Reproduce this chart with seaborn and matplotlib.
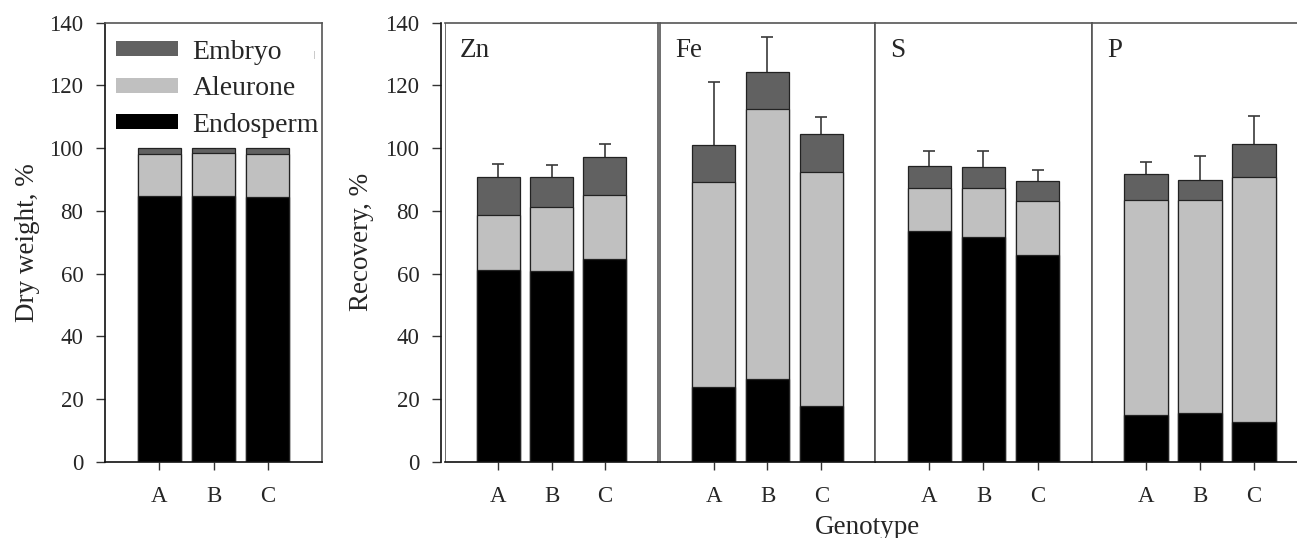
import matplotlib
matplotlib.use("Agg")
import matplotlib.pyplot as plt
import numpy as np
import pandas as pd
import seaborn as sns
from matplotlib.patches import Patch

sns.set_theme(style="white")
plt.rcParams["font.family"] = ["Liberation Serif", "DejaVu Serif"]
TICK_FS = 16.5
LABEL_FS = 19.5

genotypes = ["A", "B", "C"]
layers = ["Embryo", "Aleurone", "Endosperm"]
layer_colors = {"Embryo": "#616161", "Aleurone": "#c0c0c0", "Endosperm": "#000000"}

# dry weight distribution, %
dw_endosperm = [84.9, 84.6, 84.3]
dw_aleurone = [13.2, 13.8, 13.7]
dw_embryo = [1.9, 1.6, 2.0]

# recovery per element, %
elements = ["Zn", "Fe", "S", "P"]
rec_endosperm = {"Zn": [61.2, 61.0, 64.7], "Fe": [23.8, 26.3, 17.9],
                 "S": [73.5, 71.8, 66.0], "P": [15.0, 15.7, 12.8]}
rec_aleurone = {"Zn": [17.5, 20.3, 20.4], "Fe": [65.5, 86.3, 74.5],
                "S": [13.8, 15.6, 17.1], "P": [68.5, 67.8, 78.1]}
rec_embryo = {"Zn": [12.2, 9.6, 12.2], "Fe": [11.8, 11.8, 12.0],
              "S": [7.1, 6.7, 6.3], "P": [8.2, 6.2, 10.5]}
rec_err = {"Zn": [4.2, 3.6, 3.9], "Fe": [20.0, 10.9, 5.4],
           "S": [4.8, 5.1, 3.5], "P": [3.9, 7.9, 8.7]}

GREY = "#555555"
W, H = 1297, 538
TOP, BOTTOM = 22.6, 462


def stacked(ax, endo, aleu, emb, err=None):
    df = pd.DataFrame({"genotype": genotypes, "Endosperm": endo})
    df["Aleurone"] = df["Endosperm"] + np.array(aleu)
    df["Embryo"] = df["Aleurone"] + np.array(emb)
    if err is not None:
        _, caps, _ = ax.errorbar(np.arange(3), df["Embryo"], yerr=[np.zeros(3), err], fmt="none",
                                 ecolor="#3a3a3a", elinewidth=1.2, capsize=4.5, capthick=1.2,
                                 zorder=1)
        caps[0].set_visible(False)
    for layer in layers:
        sns.barplot(data=df, x="genotype", y=layer, color=layer_colors[layer],
                    edgecolor="#222222", linewidth=0.9, width=0.8, errorbar=None,
                    saturation=1, ax=ax, zorder=2)
    ax.set_xlim(-1, 3)
    ax.set_ylim(0, 140)
    ax.set_xlabel("")
    ax.set_ylabel("")
    ax.tick_params(axis="x", bottom=True, length=6, width=1, pad=11, color="#333333",
                   labelsize=TICK_FS)
    ax.tick_params(axis="y", left=True, length=6.5, width=1, pad=9, color="#333333",
                   labelsize=TICK_FS)
    for s in ["top", "right", "left"]:
        ax.spines[s].set_color(GREY)
        ax.spines[s].set_linewidth(1.2)
    ax.spines["bottom"].set_color("#111111")
    ax.spines["bottom"].set_linewidth(1.2)


def box(l, r):
    return [l / W, 1 - BOTTOM / H, (r - l) / W, (BOTTOM - TOP) / H]


fig = plt.figure(figsize=(W / 100, H / 100), dpi=100)

# left panel: dry weight
ax0 = fig.add_axes(box(105, 322))
stacked(ax0, dw_endosperm, dw_aleurone, dw_embryo)
ax0.spines["left"].set_color("#111111")
ax0.set_yticks(range(0, 141, 20))
ax0.set_ylabel("Dry weight, %", fontsize=LABEL_FS, labelpad=7)
handles = [Patch(facecolor=layer_colors[k], edgecolor="none") for k in layers]
ax0.legend(handles, layers, loc="upper left", bbox_to_anchor=(0.05, 0.961), frameon=False,
           fontsize=20, handlelength=2.25, handleheight=0.45, handletextpad=0.5,
           labelspacing=0.41, borderpad=0, borderaxespad=0)
fig.text(314 / W, 1 - 55 / H, "|", fontsize=6, color="#777777", ha="center", va="center")

# right panels: recovery
edges = [(445, 658), (660, 875), (875, 1092), (1092, 1308)]
for el, (l, r) in zip(elements, edges):
    ax = fig.add_axes(box(l, r))
    stacked(ax, rec_endosperm[el], rec_aleurone[el], rec_embryo[el], rec_err[el])
    ax.text(0.07, 0.937, el, transform=ax.transAxes, fontsize=LABEL_FS, ha="left", va="center")
    if el == "Zn":
        ax.set_yticks(range(0, 141, 20))
        ax.spines["left"].set_position(("outward", 3))
        ax.spines["left"].set_color("#111111")
        ax.axvline(-1, color=GREY, linewidth=1.2)
        ax.set_ylabel("Recovery, %", fontsize=LABEL_FS, labelpad=8)
    else:
        ax.set_yticks([])
        ax.tick_params(axis="y", left=False)

fig.text(868 / W, 1 - 527 / H, "Genotype", ha="center", va="center", fontsize=LABEL_FS)

fig.savefig("out.png", dpi=100)
